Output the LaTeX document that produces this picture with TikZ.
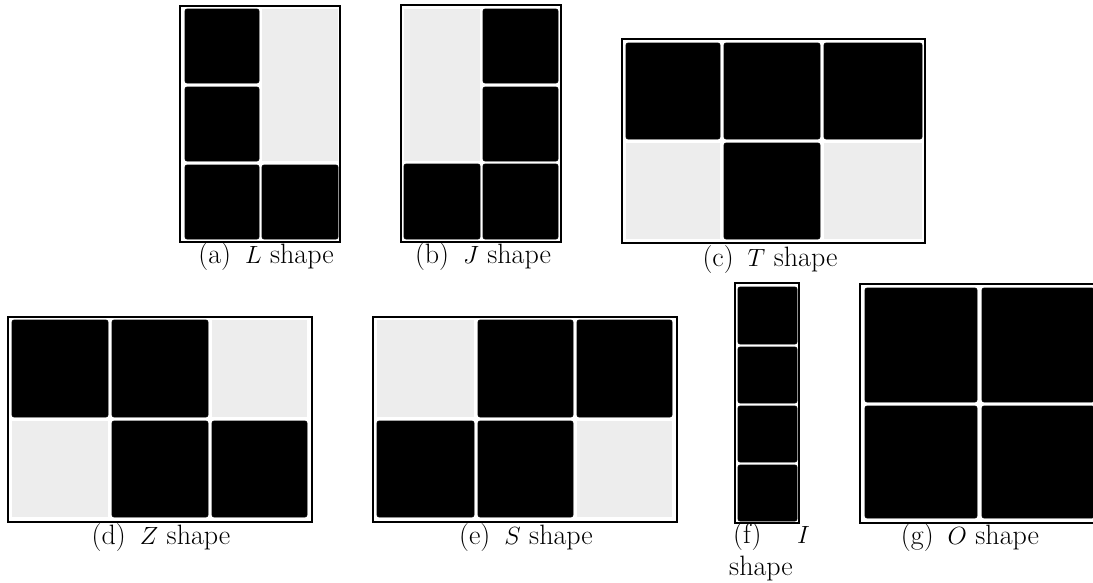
\documentclass[tikz,border=0pt]{standalone}
\begin{document}
\begin{tikzpicture}[x=1pt,y=-1pt,
  frm/.style={draw=black,line width=1.1pt,fill=white},
  blk/.style={fill=black,draw=black,line width=0.6pt,rounded corners=2pt},
  emp/.style={fill=black!7},
  captext/.style={inner sep=0pt,anchor=base,font=\fontsize{28}{32}\selectfont}]
\useasboundingbox (0,0) rectangle (1093,582);
\begin{scope}
\clip (0,0) rectangle (1093,582);
% (a) L shape
\draw[frm] (180,6) rectangle (340,242);
\fill[emp] (262,9) rectangle (338,161);
\draw[blk] (185,9) rectangle (259,83);
\draw[blk] (185,87) rectangle (259,161);
\draw[blk] (185,165) rectangle (259,239);
\draw[blk] (262,165) rectangle (338,239);
% (b) J shape
\draw[frm] (401,5) rectangle (561,242);
\fill[emp] (404,9) rectangle (480,161);
\draw[blk] (483,9) rectangle (558,83);
\draw[blk] (483,87) rectangle (558,161);
\draw[blk] (404,164) rectangle (480,239);
\draw[blk] (483,164) rectangle (558,239);
% (c) T shape
\draw[frm] (622,39) rectangle (925,243);
\fill[emp] (626,143) rectangle (720,239);
\fill[emp] (824,143) rectangle (922,239);
\draw[blk] (626,43) rectangle (720,139);
\draw[blk] (724,43) rectangle (820,139);
\draw[blk] (824,43) rectangle (922,139);
\draw[blk] (724,143) rectangle (820,239);
% (d) Z shape
\draw[frm] (8,317) rectangle (312,522);
\fill[emp] (212,320) rectangle (307,417);
\fill[emp] (12,421) rectangle (108,517);
\draw[blk] (12,320) rectangle (108,417);
\draw[blk] (112,320) rectangle (208,417);
\draw[blk] (112,421) rectangle (208,517);
\draw[blk] (212,421) rectangle (307,517);
% (e) S shape
\draw[frm] (373,317) rectangle (677,522);
\fill[emp] (377,320) rectangle (474,417);
\fill[emp] (577,421) rectangle (672,517);
\draw[blk] (478,320) rectangle (573,417);
\draw[blk] (577,320) rectangle (672,417);
\draw[blk] (377,421) rectangle (474,517);
\draw[blk] (478,421) rectangle (573,517);
% (f) I shape
\draw[frm] (735,283) rectangle (799,523);
\draw[blk] (738,287) rectangle (797,344);
\draw[blk] (738,347) rectangle (797,403);
\draw[blk] (738,406) rectangle (797,462);
\draw[blk] (738,465) rectangle (797,521);
% (g) O shape
\draw[frm] (860,284) rectangle (1098,523);
\draw[blk] (865,288) rectangle (977,402);
\draw[blk] (982,288) rectangle (1094,402);
\draw[blk] (865,406) rectangle (977,518);
\draw[blk] (982,406) rectangle (1094,518);
\end{scope}
% captions
\node[captext] (ca) at (266,263) {(a)\hspace{0.5em}$L$ shape};
\node[captext] (cb) at (483,263) {(b)\hspace{0.5em}$J$ shape};
\node[captext] (cc) at (770,266) {(c)\hspace{0.5em}$T$ shape};
\node[captext] (cd) at (161,544) {(d)\hspace{0.5em}$Z$ shape};
\node[captext] (ce) at (526,544) {(e)\hspace{0.5em}$S$ shape};
\node[captext,anchor=base west] (cf1) at (733,543) {(f)};
\node[captext,anchor=base east] (cf2) at (810,543) {$I$};
\node[captext] (cf3) at (761,575) {shape};
\node[captext] (cg) at (970,544) {(g)\hspace{0.5em}$O$ shape};
\end{tikzpicture}
\end{document}
